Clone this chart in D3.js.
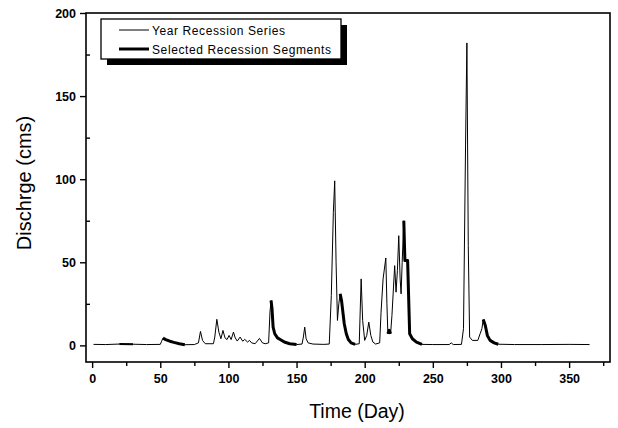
<!DOCTYPE html>
<html lang="en">
<head>
  <meta charset="UTF-8">
  <title>Recession series</title>
  <style>
    body { margin: 0; background: #fff; }
    text { font-family: "Liberation Sans", Arial, sans-serif; }
  </style>
</head>
<body>
  <script src="https://d3js.org/d3.v7.min.js"></script>
  <div id="chart"></div>

  <script>
    // daily discharge (day, cms)
    const days = [1, 10, 20, 30, 40, 50, 51, 52, 54, 57, 60, 64, 68, 75, 78, 79.5, 81, 83, 89, 90,
      91.5, 93, 94.5, 96, 97.5, 99, 100.5, 102, 103.7, 105, 106.5, 108.6, 110.5, 112, 114, 115.5, 117, 119.6,
      122.8, 125, 127, 129.5, 130.5, 131.3, 132, 132.8, 134, 136, 138, 141, 145, 150, 154, 155, 156, 157,
      158.5, 162, 170, 174, 175.5, 177, 178, 179, 180, 181, 182, 183, 184, 185, 186.5, 188, 190, 193, 196,
      197.4, 198.5, 200, 201.5, 203, 204.5, 206, 208, 211, 212, 213.5, 215.5, 216.3, 217, 218, 219, 220,
      222, 223, 224, 225, 226, 226.7, 227.5, 228.7, 229.5, 231.5, 233, 235, 238, 242, 250, 262, 263.5,
      265, 271, 272.5, 274, 275, 276, 277, 279, 283, 284.7, 286, 287, 288.5, 290, 292, 295, 298, 310,
      330, 350, 365]
    const flow = [0.6, 0.5, 0.8, 0.7, 0.5, 0.6, 2.5, 4.4, 3.5, 2.5, 1.8, 1.0, 0.4, 0.5, 1.5, 8.4, 3, 1, 1, 5,
      15.7, 8, 4, 9, 4.5, 3.5, 6, 3.5, 8, 4.5, 2.6, 5, 2.5, 3.6, 2, 3, 1.5, 1,
      4.2, 1.5, 1, 1.5, 20, 27, 22, 11, 7, 4.5, 3.5, 2, 1, 0.5, 0.8, 5, 11, 4,
      1.5, 0.8, 0.6, 0.8, 30, 80, 99, 50, 15, 25, 31, 27, 20, 13, 7, 3.5, 1.5, 0.6, 1,
      40, 15, 3, 6, 14, 6, 2, 0.8, 1.5, 20, 40, 52.6, 25, 7, 9, 7, 18,
      48, 32, 45, 66, 40, 31, 50, 75, 51, 51, 7, 4, 2, 0.6, 0.5, 0.5, 1.5,
      0.5, 0.6, 10, 120, 182, 60, 5, 3, 3, 7, 10, 15.6, 12, 6, 3, 1.5, 0.7, 0.5,
      0.5, 0.6, 0.5]

    // day ranges drawn as selected recession segments
    const segments = [[14, 30], [52, 68], [131.3, 150], [182, 194], [217, 219], [228.7, 242], [287, 300]]

    const majorX = [0, 50, 100, 150, 200, 250, 300, 350]
    const minorX = [25, 75, 125, 175, 225, 275, 325, 375]
    const majorY = [0, 50, 100, 150, 200]
    const minorY = [25, 75, 125, 175]

    const legendLabels = ['Year Recession Series', 'Selected Recession Segments']

    const data = days.map((d, i) => ({ day: d, q: flow[i] }))

    const svg = d3.select('#chart')
      .append('svg')
      .attr('width', 618)
      .attr('height', 428)

    const x = d3.scaleLinear().domain([-4.5, 380]).range([86, 610])
    const y = d3.scaleLinear().domain([-10, 200]).range([362, 13])

    // frame
    svg.append('rect')
      .attr('x', x(-4.5)).attr('y', y(200))
      .attr('width', x(380) - x(-4.5)).attr('height', y(-10) - y(200))
      .attr('fill', 'none').attr('stroke', '#000').attr('stroke-width', 1.6)

    // axes
    svg.append('g')
      .attr('transform', `translate(0, ${y(-10)})`)
      .call(d3.axisBottom(x).tickValues(majorX).tickSize(6).tickPadding(6).tickFormat(d3.format('d')))
    svg.append('g')
      .attr('transform', `translate(0, ${y(-10)})`)
      .call(d3.axisBottom(x).tickValues(minorX).tickSize(4).tickFormat(''))

    svg.append('g')
      .attr('transform', `translate(${x(-4.5)}, 0)`)
      .call(d3.axisLeft(y).tickValues(majorY).tickSize(6).tickPadding(4).tickFormat(d3.format('d')))
    svg.append('g')
      .attr('transform', `translate(${x(-4.5)}, 0)`)
      .call(d3.axisRight(y).tickValues(minorY).tickSize(4).tickFormat(''))

    svg.selectAll('.domain').remove()
    svg.selectAll('.tick line').attr('stroke', '#000').attr('stroke-width', 1.4)
    svg.selectAll('.tick text')
      .attr('fill', '#000')
      .style('font-size', '12.5px')
      .style('font-weight', 'bold')
      .style('font-family', '"Liberation Sans", Arial, sans-serif')

    // axis titles
    svg.append('text')
      .attr('x', 357).attr('y', 418)
      .attr('text-anchor', 'middle')
      .style('font-size', '19.5px')
      .text('Time (Day)')
    svg.append('text')
      .attr('transform', 'translate(31, 183) rotate(-90)')
      .attr('text-anchor', 'middle')
      .style('font-size', '20px')
      .text('Dischrge (cms)')

    // series
    const line = d3.line().x(d => x(d.day)).y(d => y(d.q))

    svg.append('path')
      .datum(data)
      .attr('d', line)
      .attr('fill', 'none')
      .attr('stroke', '#000')
      .attr('stroke-width', 1)

    svg.selectAll('.seg')
      .data(segments)
      .join('path')
      .attr('class', 'seg')
      .attr('d', s => line(data.filter(d => d.day >= s[0] && d.day <= s[1])))
      .attr('fill', 'none')
      .attr('stroke', '#000')
      .attr('stroke-width', (s, i) => i === 0 ? 2 : 3)
      .attr('stroke-linejoin', 'round')

    // legend with drop shadow
    const lg = svg.append('g')
    lg.append('rect')
      .attr('x', 107).attr('y', 25).attr('width', 240).attr('height', 40)
      .attr('fill', '#000')
    lg.append('rect')
      .attr('x', 101).attr('y', 19).attr('width', 240).attr('height', 40)
      .attr('fill', '#fff').attr('stroke', '#000').attr('stroke-width', 1.3)

    lg.selectAll('line')
      .data(legendLabels)
      .join('line')
      .attr('x1', 119).attr('x2', 149)
      .attr('y1', (d, i) => 30 + i * 19).attr('y2', (d, i) => 30 + i * 19)
      .attr('stroke', '#000')
      .attr('stroke-width', (d, i) => i ? 3 : 1)

    lg.selectAll('text')
      .data(legendLabels)
      .join('text')
      .attr('x', 152)
      .attr('y', (d, i) => 34.5 + i * 19)
      .style('font-size', '12px')
      .style('letter-spacing', '0.6px')
      .text(d => d)
  </script>
</body>
</html>
